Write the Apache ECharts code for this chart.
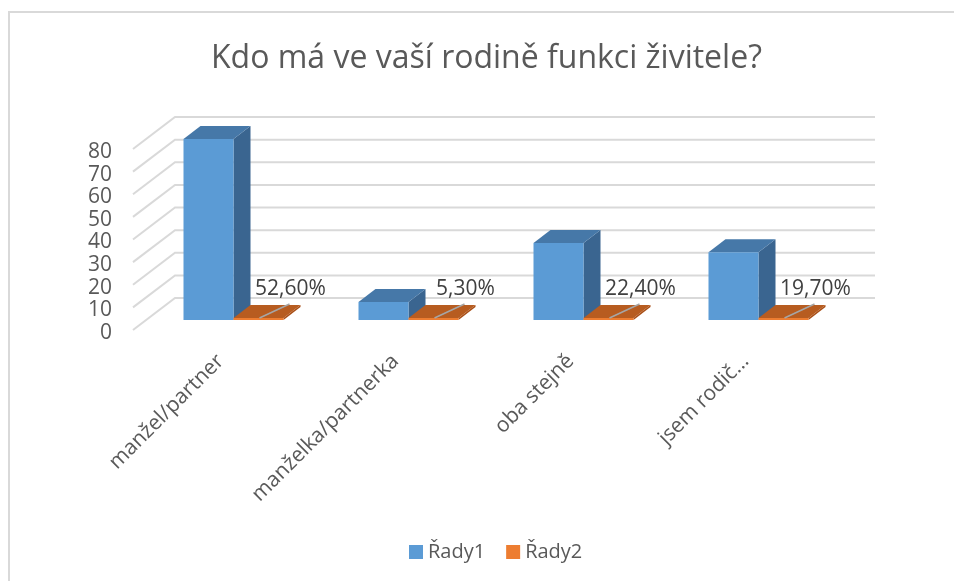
<!DOCTYPE html>
<html>
<head>
<meta charset="utf-8">
<script src="https://cdn.jsdelivr.net/npm/echarts@6/dist/echarts.min.js"></script>
<style>
  html, body { margin: 0; padding: 0; background: #fff; }
  #chart { width: 954px; height: 581px; }
</style>
</head>
<body>
<div id="chart"></div>
<script>
// data
const categories = ['manžel/partner', 'manželka/partnerka', 'oba stejně', 'jsem rodič…'];
const rady1 = [80, 8, 34, 30];
const rady2 = [0.526, 0.053, 0.224, 0.197];
const rady2Labels = ['52,60%', '5,30%', '22,40%', '19,70%'];
const yTicks = [0, 10, 20, 30, 40, 50, 60, 70, 80];

// 3D look: offsets from the bar-front plane
const FRONT = [-13, 10];  // front edge of floor
const BACK = [29, -22];   // back wall
const DEPTH = [17, -13];  // bar depth

let myChart = echarts.init(document.getElementById('chart'));

function gridLine(params, api) {
  let cs = params.coordSys;
  let y = api.coord([0, api.value(1)])[1];
  return {
    type: 'polyline',
    shape: {
      points: [
        [cs.x + FRONT[0], y + FRONT[1]],
        [cs.x + BACK[0], y + BACK[1]],
        [cs.x + cs.width + BACK[0], y + BACK[1]]
      ]
    },
    style: { stroke: '#d9d9d9', lineWidth: 2, fill: null }
  };
}

function box(x0, x1, top, base, front, side, topc) {
  let dx = DEPTH[0], dy = DEPTH[1];
  return [
    { type: 'polygon', shape: { points: [[x1, top], [x1 + dx, top + dy], [x1 + dx, base + dy], [x1, base]] }, style: { fill: side } },
    { type: 'polygon', shape: { points: [[x0, top], [x1, top], [x1 + dx, top + dy], [x0 + dx, top + dy]] }, style: { fill: topc } },
    { type: 'rect', shape: { x: x0, y: top, width: x1 - x0, height: base - top }, style: { fill: front } }
  ];
}

function blueBar(params, api) {
  let i = api.value(0);
  let base = api.coord([i, 0]);
  let top = api.coord([i, api.value(1)]);
  let bw = api.size([1, 0])[0] * 50 / 175;
  return { type: 'group', children: box(base[0] - bw, base[0], top[1], base[1], '#5b9bd5', '#3a6590', '#4678a8') };
}

function orangeBar(params, api) {
  let i = api.value(0);
  let base = api.coord([i, 0]);
  let top = api.coord([i, api.value(1)]);
  let bw = api.size([1, 0])[0] * 50 / 175;
  let t = Math.min(top[1], base[1] - 2);
  let cx = base[0] + bw / 2;
  let kids = box(base[0], base[0] + bw, t, base[1], '#ed7d31', '#a94f17', '#b75c20');
  //leader line + percent label
  kids.push({
    type: 'line',
    shape: { x1: cx + 1, y1: base[1] - 2, x2: cx + 31, y2: base[1] - 16 },
    style: { stroke: '#a6a6a6', lineWidth: 1.5 }
  });
  kids.push({
    type: 'text',
    style: {
      x: cx + 32, y: base[1] - 31,
      text: rady2Labels[i],
      align: 'center', verticalAlign: 'middle',
      fontFamily: 'Open Sans', fontSize: 21, fill: '#404040'
    }
  });
  return { type: 'group', children: kids };
}

let option = {
  backgroundColor: '#fff',
  animation: false,
  title: {
    text: 'Kdo má ve vaší rodině funkci živitele?',
    left: 206,
    top: 38,
    textStyle: { fontFamily: 'Open Sans', fontSize: 32, fontWeight: 'normal', color: '#595959' }
  },
  legend: {
    data: ['Řady1', 'Řady2'],
    left: 404,
    top: 537,
    icon: 'rect',
    itemWidth: 14,
    itemHeight: 14,
    itemGap: 21,
    textStyle: { fontFamily: 'Open Sans', fontSize: 20, color: '#595959' }
  },
  graphic: [
    { type: 'polyline', shape: { points: [[9, 581], [9, 12], [954, 12]] }, style: { stroke: '#d9d9d9', lineWidth: 2, fill: null } }
  ],
  grid: [
    { left: 146, right: 108, top: 139, bottom: 261 }, // bar-front plane
    { left: 133, right: 121, top: 152, bottom: 248 }  // front plane (labels)
  ],
  xAxis: [
    { type: 'category', gridIndex: 0, data: categories, show: false },
    {
      type: 'category', gridIndex: 1, data: categories,
      axisLine: { show: false }, axisTick: { show: false },
      axisLabel: { rotate: 45, margin: 25, interval: 0, fontFamily: 'Open Sans', fontSize: 21, color: '#595959' }
    }
  ],
  yAxis: [
    { type: 'value', gridIndex: 0, min: 0, max: 80, interval: 10, show: false },
    {
      type: 'value', gridIndex: 1, min: 0, max: 80, interval: 10,
      splitLine: { show: false }, axisLine: { show: false }, axisTick: { show: false },
      axisLabel: { margin: 21, fontFamily: 'Open Sans', fontSize: 21, color: '#595959' }
    }
  ],
  series: [
    {
      type: 'custom', name: 'grid', xAxisIndex: 0, yAxisIndex: 0,
      renderItem: gridLine, data: yTicks.map(v => [0, v]), silent: true, z: 1
    },
    {
      type: 'custom', name: 'Řady1', xAxisIndex: 0, yAxisIndex: 0,
      itemStyle: { color: '#5b9bd5' },
      renderItem: blueBar, data: rady1.map((v, i) => [i, v]), z: 2
    },
    {
      type: 'custom', name: 'Řady2', xAxisIndex: 0, yAxisIndex: 0,
      itemStyle: { color: '#ed7d31' },
      renderItem: orangeBar, data: rady2.map((v, i) => [i, v]), z: 3
    }
  ]
};

option && myChart.setOption(option);
</script>
</body>
</html>
